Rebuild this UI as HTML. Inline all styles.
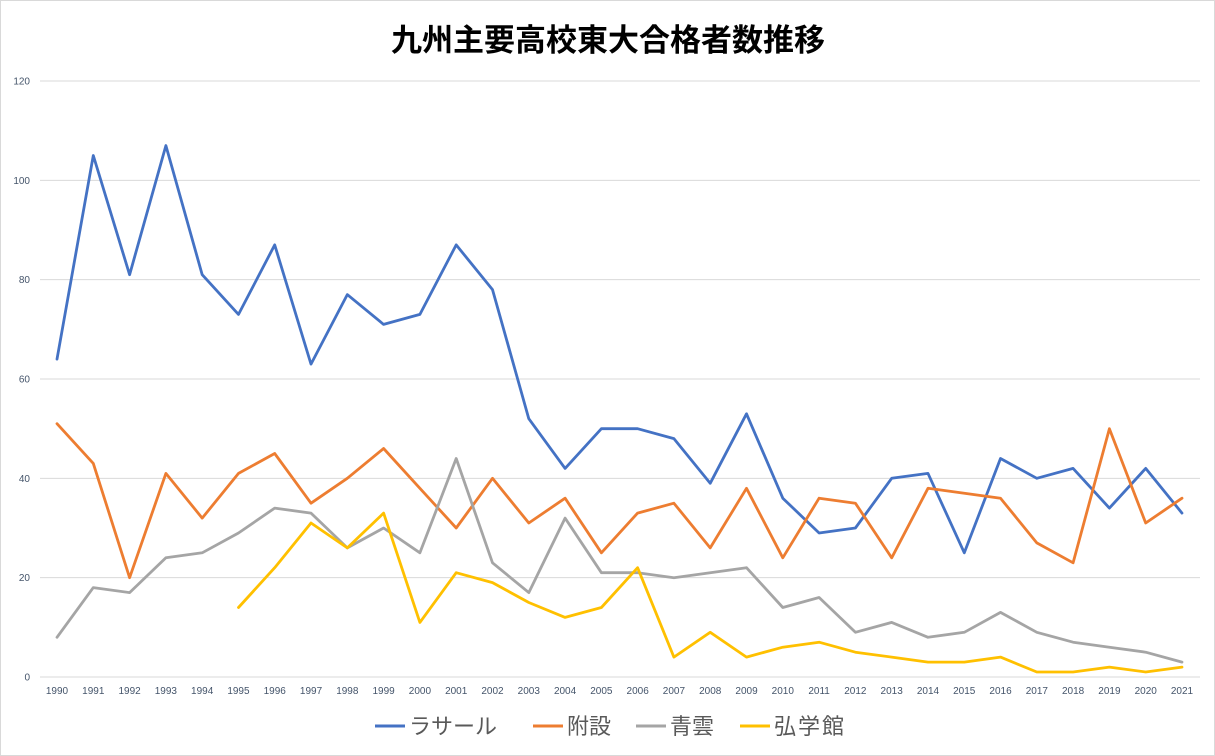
<!DOCTYPE html>
<html><head><meta charset="utf-8"><style>
body{margin:0;background:#fff;}
svg{display:block;font-family:"Liberation Sans","Noto Sans CJK JP",sans-serif;}
</style></head><body>
<svg id="c" width="1215" height="756" xmlns="http://www.w3.org/2000/svg">
<rect x="0.5" y="0.5" width="1214" height="755" fill="#fff" stroke="#d9d9d9"/>
<text x="608" y="51" text-anchor="middle" font-size="31" font-weight="bold" fill="#000" font-family="'Noto Sans CJK JP',sans-serif">九州主要高校東大合格者数推移</text>
<g id="g"></g>
<g font-size="22" fill="#595959" font-family="'Noto Sans CJK JP',sans-serif">
<line x1="375" y1="726" x2="405" y2="726" stroke="#4472C4" stroke-width="3"/><text x="409" y="734">ラサール</text>
<line x1="533" y1="726" x2="563" y2="726" stroke="#ED7D31" stroke-width="3"/><text x="567" y="734">附設</text>
<line x1="636" y1="726" x2="666" y2="726" stroke="#A5A5A5" stroke-width="3"/><text x="670" y="734">青雲</text>
<line x1="740" y1="726" x2="770" y2="726" stroke="#FFC000" stroke-width="3"/><text x="774" y="734" textLength="70">弘学館</text>
</g>
</svg>
<script>
var g=document.getElementById('g'),s='';
var x0=57,dx=1125/31,y0=677,k=596/120;
for(var v=0;v<=120;v+=20){var y=y0-v*k;s+='<line x1="40" x2="1200" y1="'+y+'" y2="'+y+'" stroke="#d9d9d9"/>';s+='<text x="30" y="'+(y+3.5)+'" text-anchor="end" font-size="10" fill="#44546A">'+v+'</text>';}
for(var i=0;i<32;i++){s+='<text x="'+(x0+i*dx)+'" y="694" text-anchor="middle" font-size="10" fill="#44546A">'+(1990+i)+'</text>';}
var d=[["#4472C4",0,[64,105,81,107,81,73,87,63,77,71,73,87,78,52,42,50,50,48,39,53,36,29,30,40,41,25,44,40,42,34,42,33]],
["#ED7D31",0,[51,43,20,41,32,41,45,35,40,46,38,30,40,31,36,25,33,35,26,38,24,36,35,24,38,37,36,27,23,50,31,36]],
["#A5A5A5",0,[8,18,17,24,25,29,34,33,26,30,25,44,23,17,32,21,21,20,21,22,14,16,9,11,8,9,13,9,7,6,5,3]],
["#FFC000",5,[14,22,31,26,33,11,21,19,15,12,14,22,4,9,4,6,7,5,4,3,3,4,1,1,2,1,2]]];
d.forEach(function(r){var p=r[2].map(function(v,j){return (x0+(j+r[1])*dx).toFixed(1)+','+(y0-v*k).toFixed(1)}).join(' ');
s+='<polyline points="'+p+'" fill="none" stroke="'+r[0]+'" stroke-width="2.8" stroke-linejoin="round" stroke-linecap="round"/>';});
g.innerHTML=s;
</script>
</body></html>
